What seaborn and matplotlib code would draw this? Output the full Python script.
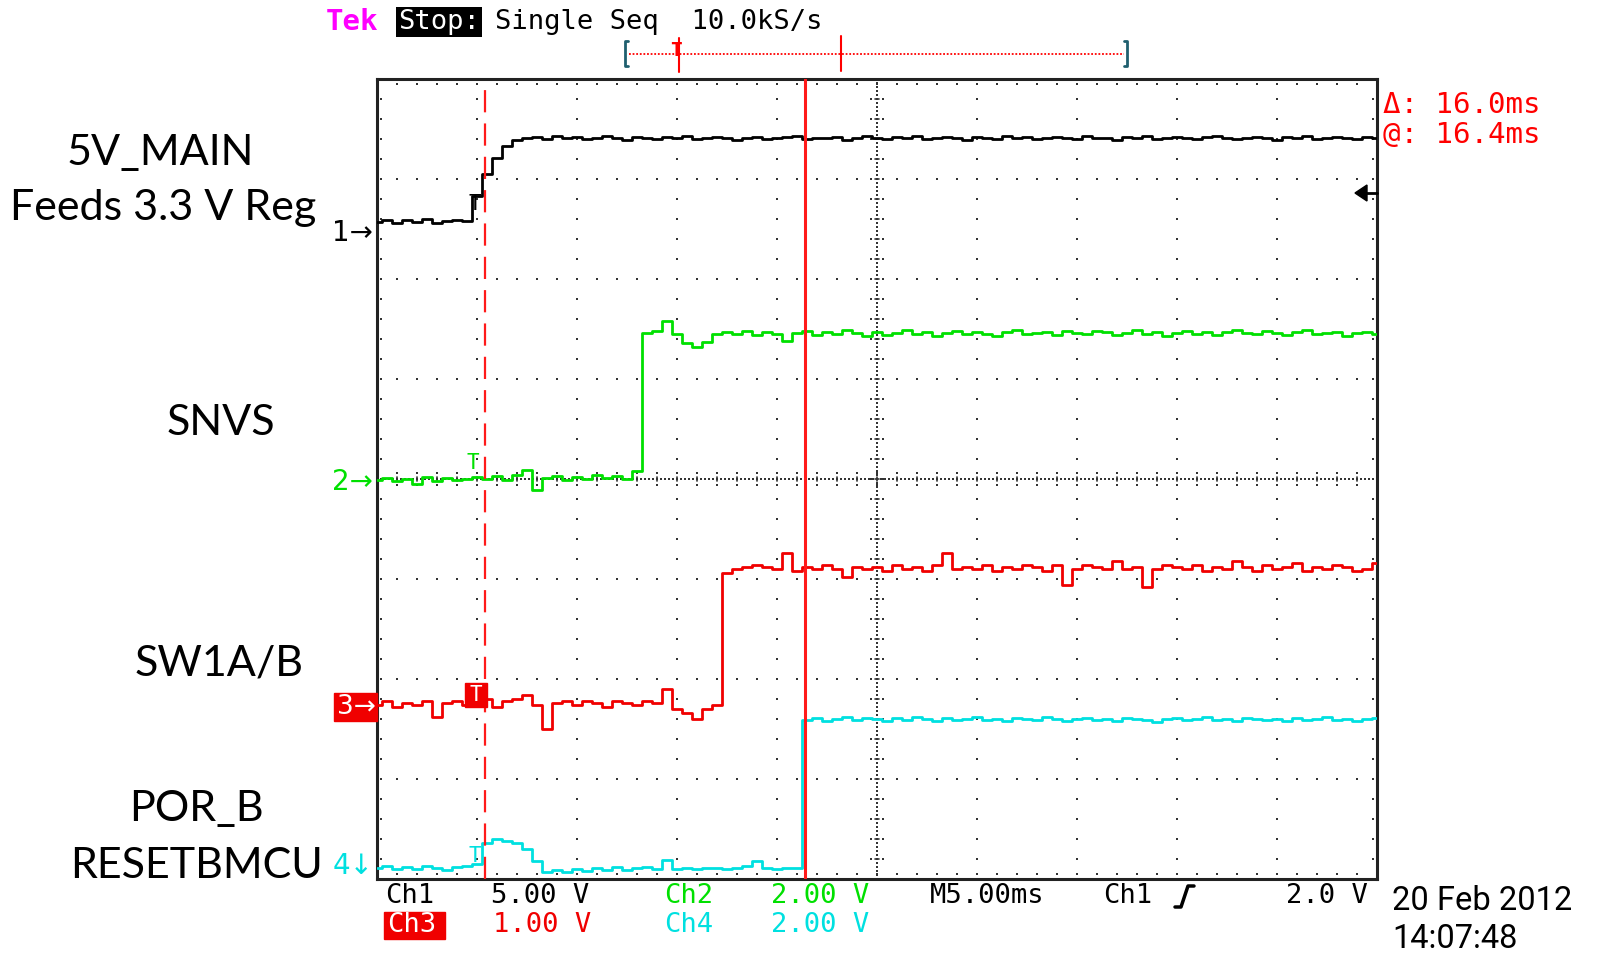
import numpy as np
import matplotlib
matplotlib.use("Agg")
import matplotlib.pyplot as plt
import seaborn as sns
from matplotlib.patches import Rectangle, Polygon

sns.set_style("white")

W, H = 1597, 955

# acquisition sample times (ms), one every 0.5 ms, trigger at 0
TIME_MS = [
    -5.0, -4.5, -4.0, -3.5, -3.0, -2.5, -2.0, -1.5, -1.0, -0.5,
    0.0, 0.5, 1.0, 1.5, 2.0, 2.5, 3.0, 3.5, 4.0, 4.5,
    5.0, 5.5, 6.0, 6.5, 7.0, 7.5, 8.0, 8.5, 9.0, 9.5,
    10.0, 10.5, 11.0, 11.5, 12.0, 12.5, 13.0, 13.5, 14.0, 14.5,
    15.0, 15.5, 16.0, 16.5, 17.0, 17.5, 18.0, 18.5, 19.0, 19.5,
    20.0, 20.5, 21.0, 21.5, 22.0, 22.5, 23.0, 23.5, 24.0, 24.5,
    25.0, 25.5, 26.0, 26.5, 27.0, 27.5, 28.0, 28.5, 29.0, 29.5,
    30.0, 30.5, 31.0, 31.5, 32.0, 32.5, 33.0, 33.5, 34.0, 34.5,
    35.0, 35.5, 36.0, 36.5, 37.0, 37.5, 38.0, 38.5, 39.0, 39.5,
    40.0, 40.5, 41.0, 41.5, 42.0, 42.5, 43.0, 43.5, 44.0, 44.5,
    45.0,
]

# Ch1 5V_MAIN (volts)
CH1_V = [
    0.50, 0.60, 0.45, 0.60, 0.50, 0.65, 0.45, 0.55, 0.60, 0.55,
    1.80, 2.90, 3.70, 4.30, 4.60, 4.70, 4.75, 4.65, 4.80, 4.70,
    4.75, 4.65, 4.70, 4.80, 4.70, 4.60, 4.75, 4.70, 4.65, 4.75,
    4.70, 4.80, 4.65, 4.70, 4.75, 4.70, 4.60, 4.70, 4.75, 4.65,
    4.70, 4.75, 4.80, 4.65, 4.70, 4.70, 4.75, 4.60, 4.70, 4.80,
    4.70, 4.65, 4.75, 4.70, 4.80, 4.65, 4.70, 4.75, 4.70, 4.60,
    4.75, 4.70, 4.65, 4.80, 4.70, 4.75, 4.65, 4.70, 4.75, 4.70,
    4.65, 4.80, 4.70, 4.70, 4.60, 4.75, 4.70, 4.80, 4.65, 4.70,
    4.75, 4.70, 4.65, 4.75, 4.80, 4.70, 4.65, 4.70, 4.75, 4.70,
    4.60, 4.75, 4.70, 4.80, 4.65, 4.70, 4.75, 4.70, 4.65, 4.75,
    4.70,
]

# Ch2 SNVS (volts)
CH2_V = [
    0.04, 0.08, 0.02, 0.06, -0.04, 0.10, 0.02, 0.08, 0.04, 0.06,
    0.10, 0.06, 0.12, 0.04, 0.14, 0.24, -0.16, 0.08, 0.12, 0.04,
    0.10, 0.06, 0.14, 0.08, 0.12, 0.06, 0.22, 2.98, 3.02, 3.22,
    2.95, 2.78, 2.70, 2.80, 2.95, 3.00, 2.96, 3.02, 2.94, 3.00,
    2.96, 2.82, 2.98, 3.02, 2.94, 3.00, 2.96, 3.04, 2.98, 2.92,
    3.00, 2.94, 2.98, 3.04, 2.96, 3.00, 2.92, 2.98, 3.02, 2.96,
    3.00, 2.96, 2.92, 3.00, 3.04, 2.96, 2.98, 3.00, 2.94, 3.02,
    2.98, 2.96, 3.02, 3.00, 2.94, 2.98, 3.04, 2.96, 3.00, 2.92,
    2.98, 3.02, 2.96, 3.00, 2.94, 3.00, 3.04, 2.98, 2.96, 3.02,
    2.98, 2.94, 3.00, 3.04, 2.96, 2.98, 3.00, 2.92, 2.98, 3.00,
    2.96,
]

# Ch3 SW1A/B (volts)
CH3_V = [
    0.00, 0.04, -0.02, 0.02, 0.00, 0.04, -0.12, 0.02, 0.04, 0.00,
    0.02, 0.06, -0.02, 0.04, 0.06, 0.10, 0.00, -0.24, 0.02, 0.04,
    0.00, 0.04, 0.02, -0.02, 0.04, 0.02, 0.00, 0.04, 0.02, 0.16,
    -0.04, -0.08, -0.14, -0.04, 0.00, 1.32, 1.36, 1.38, 1.40, 1.38,
    1.36, 1.52, 1.34, 1.38, 1.36, 1.40, 1.36, 1.28, 1.38, 1.36,
    1.38, 1.34, 1.40, 1.36, 1.38, 1.34, 1.40, 1.52, 1.36, 1.38,
    1.36, 1.40, 1.34, 1.38, 1.36, 1.40, 1.38, 1.34, 1.40, 1.20,
    1.36, 1.40, 1.38, 1.36, 1.44, 1.36, 1.38, 1.18, 1.36, 1.40,
    1.38, 1.36, 1.40, 1.34, 1.38, 1.36, 1.44, 1.38, 1.34, 1.40,
    1.36, 1.38, 1.42, 1.34, 1.38, 1.36, 1.40, 1.38, 1.34, 1.36,
    1.42,
]

# Ch4 POR_B / RESETBMCU (volts)
CH4_V = [
    -0.04, 0.00, -0.06, -0.02, -0.06, 0.00, -0.04, -0.08, -0.02, 0.00,
    0.04, 0.46, 0.54, 0.50, 0.46, 0.34, 0.10, -0.12, -0.08, -0.12,
    -0.06, -0.10, -0.04, -0.08, -0.02, -0.08, -0.04, -0.02, -0.06, 0.12,
    -0.06, -0.04, -0.06, -0.04, -0.04, -0.06, -0.04, 0.00, 0.10, -0.04,
    -0.06, -0.04, -0.04, 2.92, 2.96, 2.90, 2.94, 2.98, 2.92, 2.96,
    2.94, 2.90, 2.96, 2.92, 2.98, 2.94, 2.90, 2.96, 2.92, 2.94,
    2.98, 2.92, 2.94, 2.90, 2.96, 2.94, 2.92, 2.98, 2.94, 2.90,
    2.94, 2.96, 2.92, 2.94, 2.90, 2.96, 2.94, 2.92, 2.88, 2.94,
    2.96, 2.92, 2.94, 2.98, 2.92, 2.94, 2.90, 2.96, 2.94, 2.92,
    2.94, 2.90, 2.96, 2.92, 2.94, 2.98, 2.92, 2.94, 2.90, 2.94,
    2.96,
]

CHANNEL_V = [CH1_V, CH2_V, CH3_V, CH4_V]
VOLTS_PER_DIV = [5.0, 2.0, 1.0, 2.0]
GROUND_DIV = [6.47, 3.97, 1.74, 0.13]   # ground marker position, divisions from bottom
CURSOR_MS = [0.4, 16.4]
SIGNAL_NAMES = [["5V_MAIN", "Feeds 3.3 V Reg"], ["SNVS"], ["SW1A/B"], ["POR_B", "RESETBMCU"]]

colors = ["#000000", "#00e000", "#f00000", "#00e0e0"]
MONO = "DejaVu Sans Mono"

fig = plt.figure(figsize=(W / 100, H / 100), dpi=100)
ax = fig.add_axes([377 / W, 76 / H, 1000 / W, 800 / H])
ax.set_xlim(-5, 45)
ax.set_ylim(0, 8)
ax.set_xticks([])
ax.set_yticks([])
for sp in ax.spines.values():
    sp.set_color("#222222")
    sp.set_linewidth(2.2)

# graticule: dotted divisions, finer centre cross
gc = "#333333"
def dots(xs, ys):
    ax.plot(xs, ys, ls="none", marker="s", ms=1.5, mew=0, color=gc, zorder=1)

ydots = np.arange(0.2, 8.0, 0.2)
for xv in [0, 5, 10, 15, 25, 30, 35, 40]:
    dots(np.full(ydots.size, xv), ydots)
xdots = np.arange(-4, 45, 1.0)
for yv in [1, 2, 3, 5, 6, 7]:
    dots(xdots, np.full(xdots.size, yv))
fy = np.arange(0.04, 8.0, 0.04)
dots(np.full(fy.size, 20), fy)
fx = np.arange(-4.8, 45, 0.2)
dots(fx, np.full(fx.size, 4))
for xv in xdots:
    dots([xv, xv], [3.94, 4.06])
    ax.plot([xv, xv], [3.98, 4.02], color=gc, lw=1.2, zorder=1)
for yv in ydots:
    dots([19.7, 20.3], [yv, yv])
    ax.plot([19.9, 20.1], [yv, yv], color=gc, lw=1.2, zorder=1)
# border ticks
dots(xdots, np.full(xdots.size, 7.95))
dots(xdots, np.full(xdots.size, 0.05))
dots(np.full(ydots.size, -4.8), ydots)
dots(np.full(ydots.size, 44.8), ydots)

# traces
for v, s, g, c in zip(CHANNEL_V, VOLTS_PER_DIV, GROUND_DIV, colors):
    yd = g + np.array(v) / s
    sns.lineplot(x=TIME_MS, y=yd, ax=ax, color=c, lw=2, drawstyle="steps-mid",
                 estimator=None, legend=False, zorder=3)

# cursors
ax.axvline(CURSOR_MS[0], color="#ff1a1a", lw=1.6, ls=(0, (10, 5)), zorder=4)
ax.axvline(CURSOR_MS[1], color="#ff1a1a", lw=2.2, zorder=4)

# overlay in pixel coordinates for the scope annotations
ov = fig.add_axes([0, 0, 1, 1])
ov.set_xlim(0, W)
ov.set_ylim(H, 0)
ov.axis("off")
ov.patch.set_alpha(0)

fs = 19.5
ov.text(326, 22, "Tek", color="#ff00ff", fontsize=21, family=MONO, weight="bold", va="center")
ov.text(398, 22, "Stop:", color="white", fontsize=fs, family=MONO, va="center",
        bbox=dict(fc="black", ec="none", pad=1.5))
ov.text(495, 22, "Single Seq  10.0kS/s", color="black", fontsize=fs, family=MONO, va="center")

# record-view bar
ov.plot([629, 1124], [54, 54], color="#ff0000", lw=1.3, ls=(0, (1, 1)))
ov.plot([628, 625, 625, 628], [41, 41, 66, 66], color="#1f5f6f", lw=2)
ov.plot([1124, 1127, 1127, 1124], [41, 41, 66, 66], color="#1f5f6f", lw=2)
ov.plot([679, 679], [38, 72], color="#ff0000", lw=1.5)
ov.text(676, 50, "T", color="#ff0000", fontsize=14, family=MONO, weight="bold", ha="center", va="center")
ov.plot([841, 841], [36, 71], color="#ff0000", lw=1.5)

# cursor readout
ov.text(1383, 105, "\u0394: 16.0ms", color="#ff0000", fontsize=21, family=MONO, va="center")
ov.text(1383, 135, "@: 16.4ms", color="#ff0000", fontsize=21, family=MONO, va="center")

# trigger level arrow
ov.add_patch(Polygon([[1355, 193], [1367, 185], [1367, 201]], closed=True, color="black"))
ov.plot([1366, 1377], [193, 193], color="black", lw=2)

# channel ground markers
ov.text(373, 233, "1\u2192", color=colors[0], fontsize=20, family="DejaVu Sans", ha="right", va="center")
ov.text(373, 482, "2\u2192", color=colors[1], fontsize=20, family="DejaVu Sans", ha="right", va="center")
ov.add_patch(Rectangle((334, 693), 43, 28, color=colors[2]))
ov.text(356, 707, "3\u2192", color="white", fontsize=19, family="DejaVu Sans", ha="center", va="center")
ov.text(373, 866, "4\u2193", color=colors[3], fontsize=20, family="DejaVu Sans", ha="right", va="center")

# trigger markers on the traces
ov.text(475, 204, "T", color="black", fontsize=15, family=MONO, ha="center", va="center")
ov.text(473, 463, "T", color=colors[1], fontsize=15, family=MONO, ha="center", va="center")
ov.add_patch(Rectangle((465, 683), 22, 24, color=colors[2]))
ov.text(476, 695, "T", color="white", fontsize=15, family=MONO, ha="center", va="center")
ov.text(475, 856, "T", color=colors[3], fontsize=15, family=MONO, ha="center", va="center")

# bottom settings lines
r1, r2 = 896, 925
ov.text(385, r1, "Ch1", color="black", fontsize=fs, family=MONO, va="center")
ov.text(491, r1, "5.00 V", color="black", fontsize=fs, family=MONO, va="center")
ov.text(664, r1, "Ch2", color=colors[1], fontsize=fs, family=MONO, va="center")
ov.text(771, r1, "2.00 V", color=colors[1], fontsize=fs, family=MONO, va="center")
ov.text(930, r1, "M5.00ms", color="black", fontsize=fs, family=MONO, va="center")
ov.text(1103, r1, "Ch1", color="black", fontsize=fs, family=MONO, va="center")
ov.plot([1175, 1181, 1188, 1194], [907, 907, 886, 886], color="black", lw=2.5)
ov.text(1286, r1, "2.0 V", color="black", fontsize=fs, family=MONO, va="center")
ov.add_patch(Rectangle((384, 912), 61, 27, color=colors[2]))
ov.text(387, r2, "Ch3", color="white", fontsize=fs, family=MONO, va="center")
ov.text(493, r2, "1.00 V", color=colors[2], fontsize=fs, family=MONO, va="center")
ov.text(664, r2, "Ch4", color=colors[3], fontsize=fs, family=MONO, va="center")
ov.text(771, r2, "2.00 V", color=colors[3], fontsize=fs, family=MONO, va="center")

ov.text(1392, 901, "20 Feb 2012", color="black", fontsize=23.5, family="Roboto", va="center")
ov.text(1392, 939, "14:07:48", color="black", fontsize=23.5, family="Roboto", va="center")

# signal names on the left
label_pos = [[(160, 165), (163, 220)], [(221, 435)], [(219, 675)], [(196, 821), (196, 878)]]
for names, pos in zip(SIGNAL_NAMES, label_pos):
    for name, (x, y) in zip(names, pos):
        ov.text(x, y, name, color="black", fontsize=31, family="Lato", ha="center", va="baseline")

fig.savefig("out.png", dpi=100)
